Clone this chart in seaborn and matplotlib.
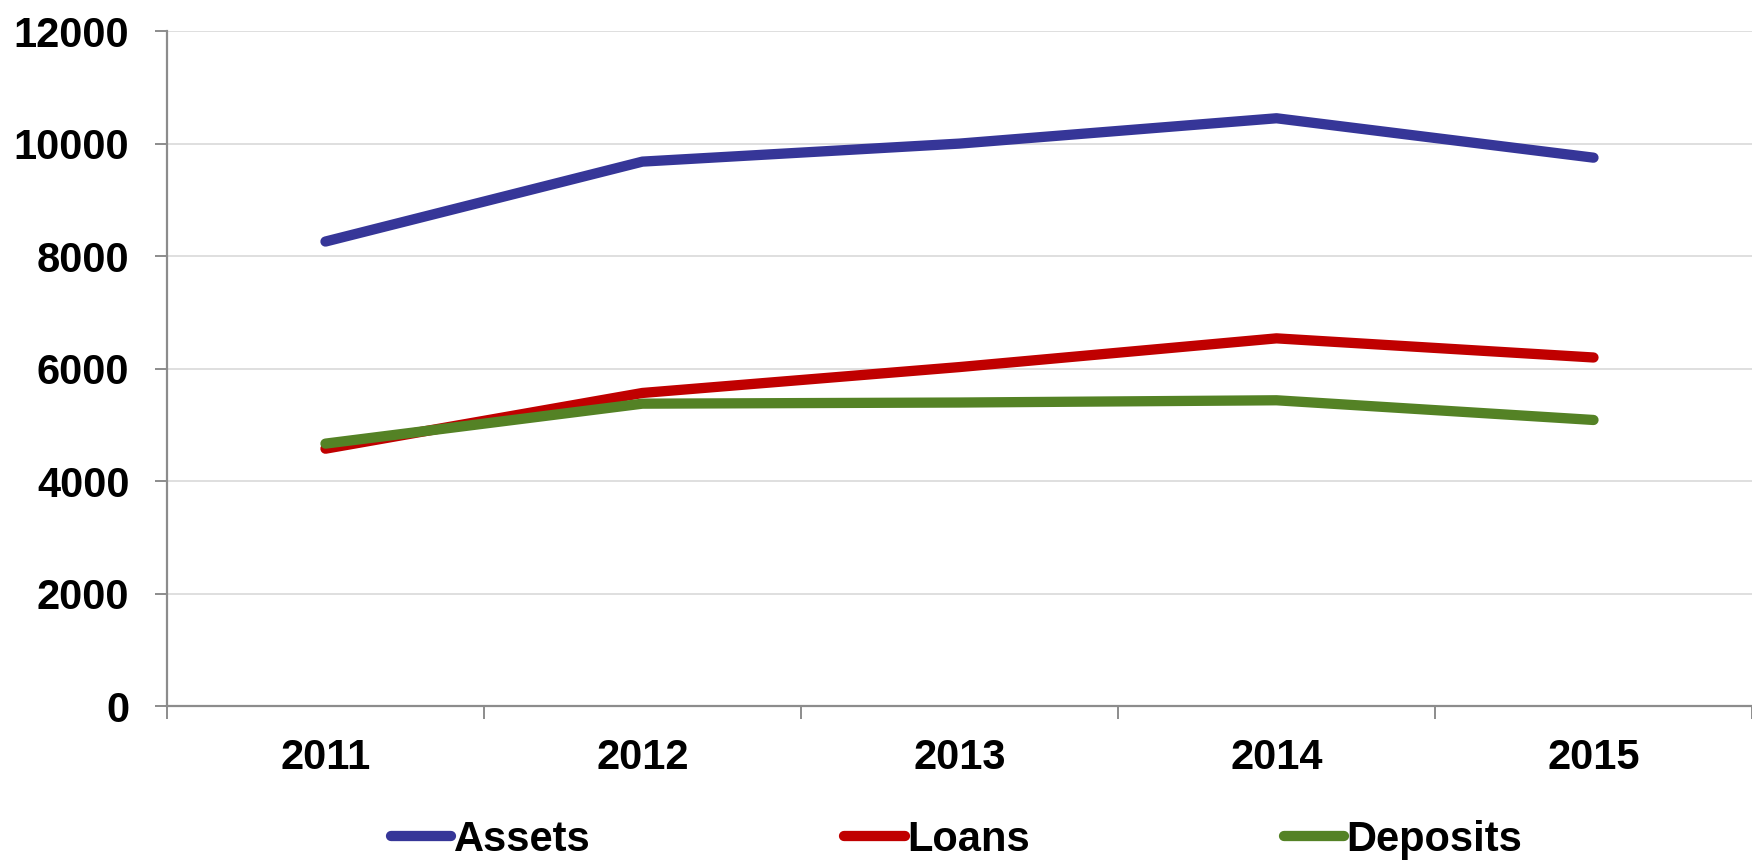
import matplotlib
matplotlib.use("Agg")
import matplotlib.pyplot as plt
import seaborn as sns
import pandas as pd
from matplotlib.ticker import FixedLocator, NullFormatter

years = ["2011", "2012", "2013", "2014", "2015"]
assets = [8260, 9680, 10000, 10450, 9750]
loans = [4580, 5570, 6030, 6540, 6200]
deposits = [4670, 5380, 5400, 5440, 5090]
series_names = ["Assets", "Loans", "Deposits"]
colors = ["#363698", "#C00000", "#548225"]
y_ticks = [0, 2000, 4000, 6000, 8000, 10000, 12000]

sns.set_style("white")
plt.rcParams["font.family"] = ["Liberation Sans", "DejaVu Sans"]
plt.rcParams["font.weight"] = "bold"
plt.rcParams["text.color"] = "black"
plt.rcParams["xtick.labelcolor"] = "black"
plt.rcParams["ytick.labelcolor"] = "black"

rows = []
for name, vals in zip(series_names, [assets, loans, deposits]):
    for i, (yr, v) in enumerate(zip(years, vals)):
        rows.append({"pos": i, "year": yr, "value": v, "series": name})
df = pd.DataFrame(rows)

LW = 7.4
FS = 30

fig = plt.figure(figsize=(17.52, 8.64), dpi=100)
ax = fig.add_axes([0.0953, 0.1823, 0.9047, 0.7818])

sns.lineplot(data=df, x="pos", y="value", hue="series", hue_order=series_names,
             palette=colors, linewidth=LW, ax=ax, legend=False,
             solid_capstyle="round")

ax.set_xlim(-0.5, len(years) - 0.5)
ax.set_ylim(0, 12000)
ax.set_yticks(y_ticks)
ax.set_yticklabels([str(t) for t in y_ticks], fontsize=FS, fontweight="bold",
                   color="black")

# category boundaries carry the tick marks, centers carry the labels
ax.xaxis.set_major_locator(FixedLocator([i - 0.5 for i in range(len(years) + 1)]))
ax.xaxis.set_major_formatter(NullFormatter())
ax.xaxis.set_minor_locator(FixedLocator(list(range(len(years)))))
ax.set_xticks(range(len(years)), labels=years, minor=True)
for lbl in ax.get_xticklabels(minor=True):
    lbl.set_fontsize(FS)
    lbl.set_fontweight("bold")
    lbl.set_color("black")
ax.tick_params(axis="x", which="major", direction="out", length=9.5, width=1.4,
               color="#8c8c8c", bottom=True)
ax.tick_params(axis="x", which="minor", length=0, pad=23)
ax.tick_params(axis="y", direction="out", length=9, width=1.4, color="#8c8c8c",
               left=True, pad=18)

ax.set_xlabel("")
ax.set_ylabel("")
ax.grid(axis="y", color="#d9d9d9", linewidth=1.2)
ax.set_axisbelow(True)
for side in ["top", "right"]:
    ax.spines[side].set_visible(False)
for side in ["left", "bottom"]:
    ax.spines[side].set_color("#8c8c8c")
    ax.spines[side].set_linewidth(1.6)

handles = [plt.Line2D([], [], color=c, linewidth=LW, solid_capstyle="round")
           for c in colors]
fig.legend(handles, series_names, loc="center", bbox_to_anchor=(0.546, 0.028),
           ncol=3, frameon=False, handlelength=1.45,
           handletextpad=0.05, columnspacing=6.1,
           prop={"weight": "bold", "size": FS}, labelcolor="black")

fig.savefig("out.png", dpi=100)
